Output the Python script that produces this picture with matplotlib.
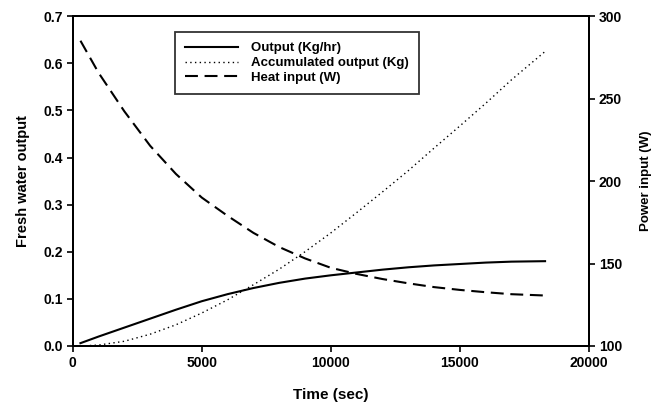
import matplotlib
matplotlib.use("Agg")
from matplotlib import pyplot as plt

plt.rcParams['font.family'] = ['Liberation Sans', 'DejaVu Sans']
plt.rcParams['font.weight'] = 'bold'

# time points (sec)
time = [300, 1000, 2000, 3000, 4000, 5000, 6000, 7000, 8000, 9000, 10000,
        11000, 12000, 13000, 14000, 15000, 16000, 17000, 18300]

# fresh water output rate (Kg/hr)
output = [0.006, 0.020, 0.039, 0.058, 0.077, 0.095, 0.110, 0.123, 0.134, 0.143, 0.150,
          0.156, 0.162, 0.167, 0.171, 0.174, 0.177, 0.179, 0.180]

# accumulated output (Kg)
accumulated = [0.0, 0.002, 0.010, 0.025, 0.045, 0.070, 0.098, 0.130, 0.163, 0.200, 0.240,
               0.283, 0.327, 0.372, 0.420, 0.467, 0.515, 0.565, 0.625]

# heat input (W)
heat = [285.1, 265.7, 242.3, 221.4, 204.3, 190.0, 178.9, 168.6, 160.0, 153.1, 147.4,
        143.7, 140.6, 138.0, 135.7, 134.0, 132.6, 131.4, 130.6]

fig = plt.figure(figsize=(6.61, 4.04), dpi=100)
ax = fig.add_axes([0.110, 0.1436, 0.781, 0.8164])
ax2 = ax.twinx()

l1, = ax.plot(time, output, color='black', lw=1.5, label='Output (Kg/hr)')
l2, = ax.plot(time, accumulated, color='black', lw=1.0, linestyle=(0, (1, 2.4)),
              label='Accumulated output (Kg)')
l3, = ax2.plot(time, heat, color='black', lw=1.5, linestyle=(0, (6.2, 3.2)),
               label='Heat input (W)')

ax.set_xlim(0, 20000)
ax.set_ylim(0, 0.7)
ax2.set_ylim(100, 300)
ax.set_xticks([0, 5000, 10000, 15000, 20000])
ax.set_yticks([0.0, 0.1, 0.2, 0.3, 0.4, 0.5, 0.6, 0.7])
ax.set_yticklabels(['0.0', '0.1', '0.2', '0.3', '0.4', '0.5', '0.6', '0.7'])
ax2.set_yticks([100, 150, 200, 250, 300])

for a in (ax, ax2):
    a.tick_params(direction='out', length=4, width=1.2, labelsize=10, pad=3)
    for s in a.spines.values():
        s.set_linewidth(1.4)

ax.set_xlabel('Time (sec)', fontsize=11, fontweight='bold', labelpad=13)
ax.set_ylabel('Fresh water output', fontsize=10.5, fontweight='bold', labelpad=10)
ax2.set_ylabel('Power input (W)', fontsize=9.5, fontweight='bold', rotation=90, labelpad=13)

leg = ax.legend(handles=[l1, l2, l3], loc='upper left', bbox_to_anchor=(0.198, 0.9515),
                borderaxespad=0, fontsize=9.5, frameon=True, fancybox=False,
                edgecolor='black', handlelength=4.0, borderpad=0.75, labelspacing=0.2,
                handletextpad=1.05)
leg.get_frame().set_linewidth(1.3)

fig.savefig('out.png', dpi=100)
